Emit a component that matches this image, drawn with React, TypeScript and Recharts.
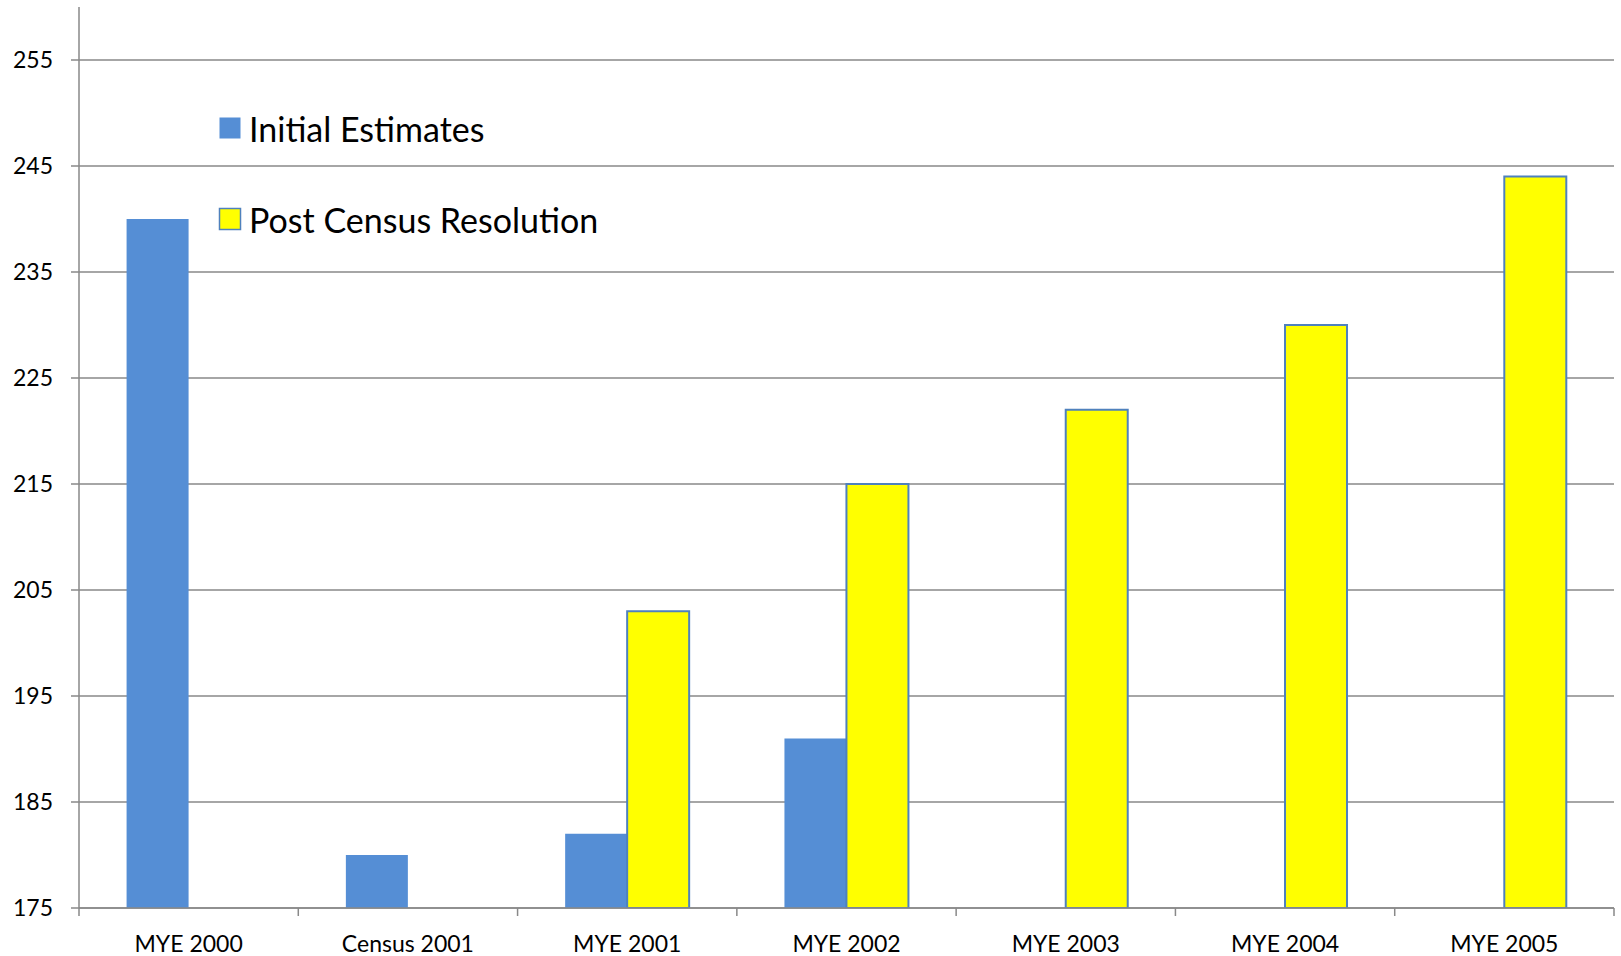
import React from 'react';
import { BarChart, Bar, XAxis, YAxis, CartesianGrid, Legend } from 'recharts';

const categories = ['MYE 2000', 'Census 2001', 'MYE 2001', 'MYE 2002', 'MYE 2003', 'MYE 2004', 'MYE 2005'];
const initialEstimates = [240, 180, 182, 191, null, null, null];
const postCensusResolution = [null, null, 203, 215, 222, 230, 244];
const yTicks = [175, 185, 195, 205, 215, 225, 235, 245, 255];

const data = categories.map((name, i) => ({
  name,
  initial: initialEstimates[i],
  post: postCensusResolution[i],
}));

const W = 1621;
const H = 956;
const MARGIN = { top: 7, right: 7, bottom: 0, left: 0 };
const Y_AXIS_W = 79;
const X_AXIS_H = 48;
const BAND = (W - MARGIN.left - MARGIN.right - Y_AXIS_W) / categories.length;

const FONT = 'Lato, Calibri, sans-serif';
const GREY = '#898989';
const BLUE = '#558ED5';
const YELLOW = '#FFFF00';
const EDGE = '#4F81BD';

const XTick = (props: any) => {
  const { x, y, payload, index } = props;
  const last = index === categories.length - 1;
  return (
    <g>
      <line x1={x - BAND / 2} x2={x - BAND / 2} y1={y} y2={y + 8} stroke={GREY} strokeWidth={1.5} />
      {last && <line x1={x + BAND / 2} x2={x + BAND / 2} y1={y} y2={y + 8} stroke={GREY} strokeWidth={1.5} />}
      <text x={x} y={y + 44} textAnchor="middle" fontSize={23} fontFamily={FONT} fill="#000">
        {payload.value}
      </text>
    </g>
  );
};

const LegendBox = (props: any) => {
  const { payload } = props;
  return (
    <div style={{ fontFamily: FONT, fontSize: 34, color: '#000' }}>
      {payload.map((p: any, i: number) => (
        <div key={p.value} style={{ display: 'flex', alignItems: 'center', height: 44, marginBottom: i === 0 ? 47 : 0 }}>
          <svg width={24} height={24} style={{ marginRight: 7 }}>
            <rect
              x={1.5}
              y={1.5}
              width={21}
              height={21}
              fill={p.color}
              stroke={p.value === 'Post Census Resolution' ? EDGE : p.color}
              strokeWidth={p.value === 'Post Census Resolution' ? 1.5 : 0}
            />
          </svg>
          <span>{p.value}</span>
        </div>
      ))}
    </div>
  );
};

export default function App() {
  return (
    <div style={{ position: 'absolute', left: 0, top: 0, width: W, height: H, background: '#fff' }}>
      <BarChart width={W} height={H} data={data} margin={MARGIN} barCategoryGap="21.7%" barGap={0}>
        <CartesianGrid vertical={false} horizontalValues={yTicks} stroke={GREY} strokeWidth={1.5} />
        <XAxis
          dataKey="name"
          height={X_AXIS_H}
          axisLine={{ stroke: GREY, strokeWidth: 1.5 }}
          tickLine={false}
          tickSize={0}
          tickMargin={0}
          interval={0}
          tick={<XTick />}
        />
        <YAxis
          width={Y_AXIS_W}
          domain={[175, 260]}
          ticks={yTicks}
          allowDataOverflow
          axisLine={{ stroke: GREY, strokeWidth: 1.5 }}
          tickLine={{ stroke: GREY, strokeWidth: 1.5 }}
          tickSize={8}
          tickMargin={18}
          tick={{ fontSize: 23, fontFamily: FONT, fill: '#000' }}
        />
        <Legend
          layout="vertical"
          align="center"
          verticalAlign="middle"
          content={<LegendBox />}
          wrapperStyle={{ position: 'absolute', left: 218, top: 106, width: 420 }}
        />
        <Bar dataKey="initial" name="Initial Estimates" fill={BLUE} isAnimationActive={false} />
        <Bar dataKey="post" name="Post Census Resolution" fill={YELLOW} stroke={EDGE} strokeWidth={2} isAnimationActive={false} />
      </BarChart>
    </div>
  );
}
